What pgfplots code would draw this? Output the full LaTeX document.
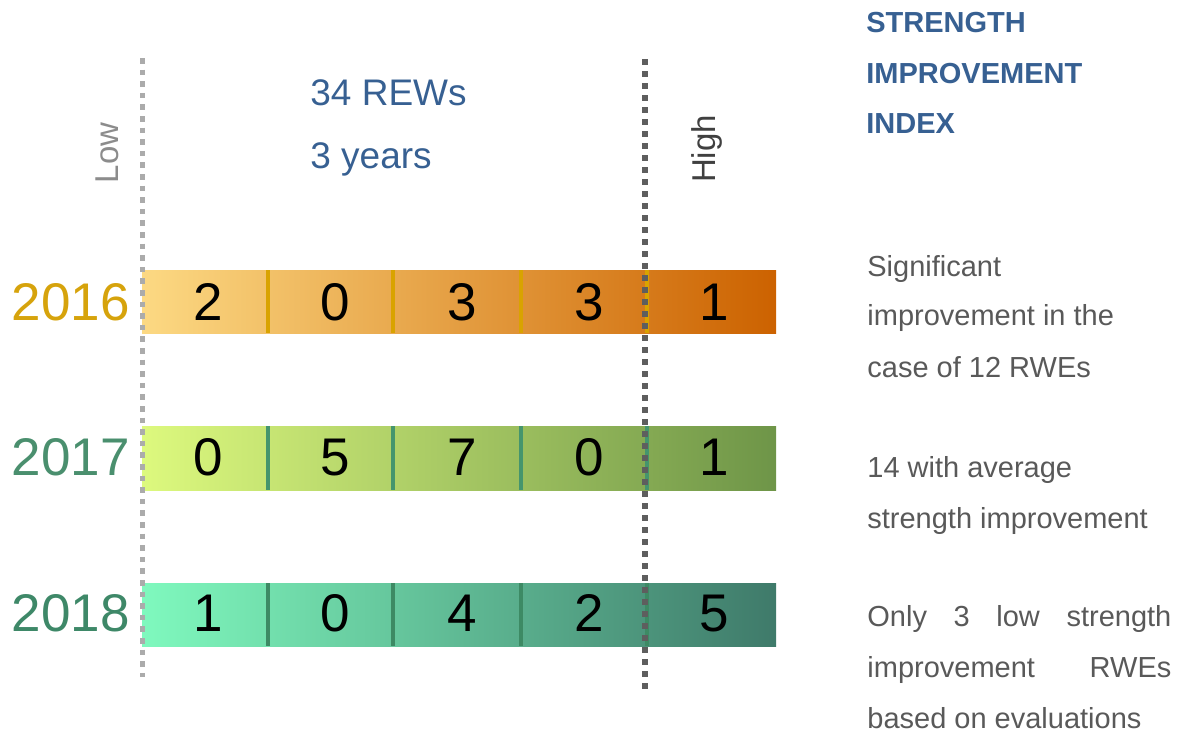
\documentclass[border=0pt]{standalone}
\usepackage{fontspec}
\setmainfont{Liberation Sans}
\usepackage{pgfplots}
\pgfplotsset{compat=1.18}
\usepackage{pgfplotstable}

\definecolor{aL}{HTML}{FCD983}\definecolor{aR}{HTML}{CC6200}
\definecolor{bL}{HTML}{DDF97E}\definecolor{bR}{HTML}{6E9548}
\definecolor{cL}{HTML}{7FF9BE}\definecolor{cR}{HTML}{3F7A6A}
\definecolor{aDiv}{HTML}{D9A300}
\definecolor{bDiv}{HTML}{45956D}
\definecolor{cDiv}{HTML}{3D8A64}
\definecolor{blueT}{HTML}{376092}
\definecolor{grayT}{HTML}{595959}
\definecolor{yA}{HTML}{D6A30C}
\definecolor{yB}{HTML}{4A8F6E}
\definecolor{yC}{HTML}{3E8868}

\pgfplotstableread{
x y v
208 320 2
335 320 0
462 320 3
589 320 3
714 320 1
208 475 0
335 475 5
462 475 7
589 475 0
714 475 1
208 631 1
335 631 0
462 631 4
589 631 2
714 631 5
}\counts

\newcommand{\seg}[6]{\addplot[draw=none, left color=#5, right color=#6] coordinates {(#1,#3) (#2,#3) (#2,#4) (#1,#4)} --cycle;}
\newcommand{\dv}[4]{\addplot[#4, line width=1.8pt] coordinates {(#1,#2) (#1,#3)};}

\begin{document}
\begin{tikzpicture}
\begin{axis}[
  width=592.5pt, height=368pt, scale only axis,
  xmin=0, xmax=1185, ymin=0, ymax=736, y dir=reverse,
  axis lines=none, enlargelimits=false, clip=false,
]
\path (axis cs:0,0) rectangle (axis cs:1185,736);
% 2016
\seg{142}{268}{270}{333}{aL}{aR!19.9!aL}
\seg{268}{393}{270}{333}{aR!19.9!aL}{aR!39.6!aL}
\seg{393}{521}{270}{333}{aR!39.6!aL}{aR!59.8!aL}
\seg{521}{647}{270}{333}{aR!59.8!aL}{aR!79.7!aL}
\seg{647}{776}{270}{333}{aR!79.7!aL}{aR}
% 2017
\seg{142}{268}{426}{490}{bL}{bR!19.9!bL}
\seg{268}{393}{426}{490}{bR!19.9!bL}{bR!39.6!bL}
\seg{393}{521}{426}{490}{bR!39.6!bL}{bR!59.8!bL}
\seg{521}{647}{426}{490}{bR!59.8!bL}{bR!79.7!bL}
\seg{647}{776}{426}{490}{bR!79.7!bL}{bR}
% 2018
\seg{142}{268}{583}{646}{cL}{cR!19.9!cL}
\seg{268}{393}{583}{646}{cR!19.9!cL}{cR!39.6!cL}
\seg{393}{521}{583}{646}{cR!39.6!cL}{cR!59.8!cL}
\seg{521}{647}{583}{646}{cR!59.8!cL}{cR!79.7!cL}
\seg{647}{776}{583}{646}{cR!79.7!cL}{cR}
% dividers
\dv{268}{270}{333}{aDiv}\dv{393}{270}{333}{aDiv}\dv{521}{270}{333}{aDiv}\dv{647}{270}{333}{aDiv}
\dv{268}{426}{490}{bDiv}\dv{393}{426}{490}{bDiv}\dv{521}{426}{490}{bDiv}\dv{647}{426}{490}{bDiv}
\dv{268}{583}{646}{cDiv}\dv{393}{583}{646}{cDiv}\dv{521}{583}{646}{cDiv}\dv{647}{583}{646}{cDiv}
% dotted lines
\addplot[color=black!33, line width=2.5pt, dash pattern=on 2.8pt off 3pt] coordinates {(142,58) (142,677)};
\addplot[color=black!63, line width=2.8pt, dash pattern=on 3pt off 3pt] coordinates {(645,59) (645,690)};
% numbers
\addplot[only marks, mark=none, nodes near coords, point meta=explicit symbolic,
  every node near coord/.append style={anchor=base, inner sep=0pt, font=\fontsize{26.5}{30}\selectfont, text=black}]
  table[x=x, y=y, meta=v] {\counts};
% year labels
\node[anchor=base east, inner sep=0pt, text=yA, font=\fontsize{26.5}{30}\selectfont] at (axis cs:130,320) {2016};
\node[anchor=base east, inner sep=0pt, text=yB, font=\fontsize{26.5}{30}\selectfont] at (axis cs:130,475) {2017};
\node[anchor=base east, inner sep=0pt, text=yC, font=\fontsize{26.5}{30}\selectfont] at (axis cs:130,631) {2018};
% low / high
\node[rotate=90, anchor=base, inner sep=0pt, text=black!45, font=\fontsize{16.5}{18}\selectfont] at (axis cs:118,153) {Low};
\node[rotate=90, anchor=base, inner sep=0pt, text=black!75, font=\fontsize{16.5}{18}\selectfont] at (axis cs:715,149) {High};
% center texts
\node[anchor=base west, inner sep=0pt, text=blueT, font=\fontsize{18.5}{20}\selectfont] at (axis cs:310,105) {34 REWs};
\node[anchor=base west, inner sep=0pt, text=blueT, font=\fontsize{18.5}{20}\selectfont] at (axis cs:310,168) {3 years};
% header
\node[anchor=base west, inner sep=0pt, text=blueT, font=\fontsize{14.5}{16}\selectfont\bfseries] at (axis cs:866,32) {STRENGTH};
\node[anchor=base west, inner sep=0pt, text=blueT, font=\fontsize{14.5}{16}\selectfont\bfseries] at (axis cs:866,83) {IMPROVEMENT};
\node[anchor=base west, inner sep=0pt, text=blueT, font=\fontsize{14.5}{16}\selectfont\bfseries] at (axis cs:866,133) {INDEX};
% right notes
\begin{scope}[every node/.style={anchor=base west, inner sep=0pt, text=grayT, font=\fontsize{14.5}{16}\selectfont}]
\node at (axis cs:867,276) {Significant};
\node at (axis cs:867,325) {improvement in the};
\node at (axis cs:867,377) {case of 12 RWEs};
\node at (axis cs:867,477) {14 with average};
\node at (axis cs:867,528) {strength improvement};
\node at (axis cs:867,626) {\hbox to 152pt{Only\hfill 3\hfill low\hfill strength}};
\node at (axis cs:867,677) {\hbox to 152pt{improvement\hfill RWEs}};
\node at (axis cs:867,728) {based on evaluations};
\end{scope}
\end{axis}
\end{tikzpicture}
\end{document}
